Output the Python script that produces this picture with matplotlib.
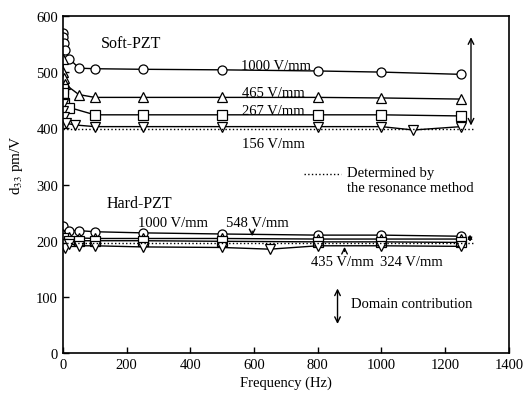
import matplotlib.pyplot as plt

plt.rcParams["font.family"] = ["Liberation Serif", "DejaVu Serif"]
plt.rcParams["mathtext.fontset"] = "stix"

# Soft-PZT
soft_1000_f = [0.5, 1, 2, 5, 20, 50, 100, 250, 500, 800, 1000, 1250]
soft_1000_v = [570, 562, 551, 540, 524, 507, 506, 505, 504, 502, 500, 496]
soft_465_f = [0.5, 1, 2, 5, 50, 100, 250, 500, 800, 1000, 1250]
soft_465_v = [523, 500, 490, 479, 460, 455, 455, 455, 455, 454, 452]
soft_267_f = [0.5, 1, 2, 20, 100, 250, 500, 800, 1000, 1250]
soft_267_v = [470, 462, 445, 437, 424, 424, 424, 424, 424, 422]
soft_156_f = [0.5, 1, 2, 10, 37, 100, 250, 500, 800, 1000, 1100, 1250]
soft_156_v = [443, 430, 420, 409, 406, 403, 403, 403, 403, 403, 397, 403]
soft_resonance = 398

# Hard-PZT
hard_f = [1, 20, 50, 100, 250, 500, 800, 1000, 1250]
hard_1000_v = [226, 218, 218, 216, 214, 212, 210, 210, 208]
hard_548_v = [212, 206, 205, 204, 204, 204, 203, 203, 203]
hard_435_v = [205, 200, 200, 200, 200, 199, 198, 198, 197]
hard_324_f = [1, 5, 20, 50, 100, 250, 500, 650, 800, 1000, 1250]
hard_324_v = [195, 187, 195, 191, 191, 189, 188, 185, 191, 191, 190]
hard_resonance = 196

fig = plt.figure(figsize=(5.29, 4.02), dpi=100)
ax = fig.add_axes([0.119, 0.119, 0.843, 0.839])

mk = dict(color="black", lw=1.0, mfc="white", mec="black", ms=6.5, mew=0.9)
ax.plot(soft_1000_f, soft_1000_v, marker="o", **mk)
ax.plot(soft_465_f, soft_465_v, marker="^", **mk)
ax.plot(soft_267_f, soft_267_v, marker="s", **mk)
ax.plot(soft_156_f, soft_156_v, marker="v", **mk)
ax.plot([0, 1290], [soft_resonance, soft_resonance], ls=":", color="black", lw=1.0)

ax.plot(hard_f, hard_1000_v, marker="o", **mk)
ax.plot(hard_f, hard_548_v, marker="^", **mk)
ax.plot(hard_f, hard_435_v, marker="s", **mk)
ax.plot(hard_324_f, hard_324_v, marker="v", **mk)
ax.plot([0, 1290], [hard_resonance, hard_resonance], ls=":", color="black", lw=1.0)

fs = 10.5
ax.text(120, 552, "Soft-PZT", fontsize=11.5, va="center")
ax.text(558, 512, "1000 V/mm", fontsize=fs, va="center")
ax.text(562, 463, "465 V/mm", fontsize=fs, va="center")
ax.text(562, 432, "267 V/mm", fontsize=fs, va="center")
ax.text(562, 373, "156 V/mm", fontsize=fs, va="center")

ax.plot([756, 872], [318, 318], ls=":", color="black", lw=1.0)
ax.text(891, 321, "Determined by", fontsize=fs, va="center")
ax.text(891, 294, "the resonance method", fontsize=fs, va="center")

ax.text(137, 268, "Hard-PZT", fontsize=11.5, va="center")
ax.text(235, 233, "1000 V/mm", fontsize=fs, va="center")
ax.text(512, 233, "548 V/mm", fontsize=fs, va="center")
ax.text(780, 163, "435 V/mm", fontsize=fs, va="center")
ax.text(995, 163, "324 V/mm", fontsize=fs, va="center")

arr = dict(arrowstyle="->", color="black", lw=1.0)
ax.annotate("", xy=(594, 203), xytext=(594, 222), arrowprops=arr)
ax.annotate("", xy=(884, 194), xytext=(884, 176), arrowprops=arr)

darr = dict(arrowstyle="<->", color="black", lw=1.0)
ax.annotate("", xy=(1281, 400), xytext=(1281, 567), arrowprops=darr)
ax.annotate("", xy=(1278, 193), xytext=(1278, 216),
            arrowprops=dict(arrowstyle="<->", color="black", lw=1.0, mutation_scale=6))
ax.annotate("", xy=(862, 47), xytext=(862, 120), arrowprops=darr)
ax.text(903, 88, "Domain contribution", fontsize=fs, va="center")

ax.set_xlim(0, 1400)
ax.set_ylim(0, 600)
ax.set_xticks(range(0, 1401, 200))
ax.set_yticks(range(0, 601, 100))
ax.tick_params(direction="in", length=4, width=1.0, labelsize=10.5, top=False, right=False)
for s in ax.spines.values():
    s.set_linewidth(1.2)
ax.set_xlabel("Frequency (Hz)", fontsize=10.5, labelpad=3)
ax.set_ylabel("d$_{33}$ pm/V", fontsize=11)
ax.yaxis.set_label_coords(-0.085, 0.56)

fig.savefig("out.png", dpi=100)
